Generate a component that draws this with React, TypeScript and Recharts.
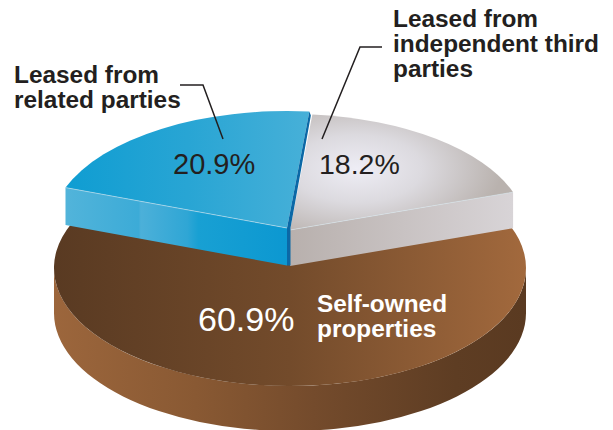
import { PieChart, Pie } from "recharts";

const SHARE_NAMES = ["Self-owned properties", "Leased from independent third parties", "Leased from related parties"];
const SHARE_VALUES = [60.9, 18.2, 20.9];

const rows = SHARE_NAMES.map((name, i) => ({ name, value: SHARE_VALUES[i] }));

const RAD = Math.PI / 180;
const INK = "#231f20";
const SANS = "'Liberation Sans', Arial, sans-serif";

// how each wedge sits on the disc: shift of its centre, squash, height of its side
const WEDGES = [
  { dx: 0, dy: 0, ry: 118, depth: 45, tipDy: -3, tuck: 2, face: "url(#brownFace)", side: "url(#brownSide)", sideFrom: "arc" },
  { dx: 0, dy: -38, ry: 116, depth: 36, tipDy: 0, tuck: 0, face: "url(#greyFace)", side: "url(#greySide)", sideFrom: "start" },
  { dx: -3, dy: -40, ry: 117, depth: 37.5, tipDy: 0, tuck: 0, face: "url(#blueFace)", side: "url(#blueSide)", sideFrom: "end" },
];

const PERCENT_LABELS = [
  { x: 198, y: 331, size: 34, color: "#ffffff" },
  { x: 319, y: 174, size: 28.5, color: INK },
  { x: 173, y: 174, size: 29, color: INK },
];

const NAME_LABELS = [
  { x: 317, y: 312, step: 25, color: "#ffffff", lines: ["Self-owned", "properties"] },
  { x: 393, y: 27, step: 25, color: INK, lines: ["Leased from", "independent third", "parties"] },
  { x: 14, y: 83, step: 25, color: INK, lines: ["Leased from", "related parties"] },
];

const LEADERS = ["", "382,47 360,47 322,139", "180,85 203,85 223,139"];

function WedgeShape(props: any) {
  const { cx, cy, outerRadius: rx, startAngle, endAngle, index } = props;
  const w = WEDGES[index];
  const ox = cx + w.dx;
  const oy = cy + w.dy;
  const at = (deg: number) =>
    [ox + rx * Math.cos(deg * RAD), oy - w.ry * Math.sin(deg * RAD)] as const;

  const [sx, sy] = at(startAngle);
  const [ex, ey] = at(endAngle);
  // the brown top runs a little further so it slips under the raised wedges
  const [fx, fy] = at(startAngle - w.tuck);
  const [gx, gy] = at(endAngle + w.tuck);
  const large = endAngle - startAngle > 180 ? 1 : 0;
  const tipY = oy + w.tipDy;
  const facePath = `M${ox},${tipY}L${fx},${fy}A${rx},${w.ry} 0 ${large} 0 ${gx},${gy}Z`;

  let sidePath: string;
  if (w.sideFrom === "arc") {
    const l = ox - rx;
    const r = ox + rx;
    sidePath = `M${l},${oy}A${rx},${w.ry} 0 0 0 ${r},${oy}V${oy + w.depth}A${rx},${w.ry} 0 0 1 ${l},${oy + w.depth}Z`;
  } else {
    const [px, py] = w.sideFrom === "start" ? [sx, sy] : [ex, ey];
    sidePath = `M${ox},${tipY}L${px},${py}V${py + w.depth}L${ox},${tipY + w.depth}Z`;
  }

  return (
    <g>
      <path d={sidePath} fill={w.side} />
      <path d={facePath} fill={w.face} />
      {w.sideFrom !== "arc" && (
        <line
          x1={ox}
          y1={tipY}
          x2={w.sideFrom === "start" ? sx : ex}
          y2={w.sideFrom === "start" ? sy : ey}
          stroke="#d6e6ee"
          strokeWidth={0.7}
          strokeOpacity={0.8}
        />
      )}
      {index === 2 && (
        // the darker inner wall of the blue wedge, seen through the gap
        <path
          d={`M${ox},${tipY}L${sx},${sy}L${sx + 1.5},${sy + 4}L${ox + 3.5},${tipY}V${tipY + w.depth}H${ox}Z`}
          fill="#0b68a6"
        />
      )}
    </g>
  );
}

function WedgeLabel(props: any) {
  const { index, value } = props;
  const pct = PERCENT_LABELS[index];
  const names = NAME_LABELS[index];
  return (
    <g fontFamily={SANS}>
      {LEADERS[index] && <polyline points={LEADERS[index]} fill="none" stroke={INK} strokeWidth={1.5} />}
      <text x={pct.x} y={pct.y} fontSize={pct.size} fill={pct.color}>
        {value.toFixed(1)}%
      </text>
      <text fontSize={24.4} fontWeight={700} fill={names.color}>
        {names.lines.map((line, i) => (
          <tspan key={line} x={names.x} y={names.y + i * names.step}>
            {line}
          </tspan>
        ))}
      </text>
    </g>
  );
}

export default function App() {
  return (
    <div style={{ position: "absolute", left: 0, top: 0 }}>
      <PieChart width={613} height={430} margin={{ top: 0, right: 0, bottom: 0, left: 0 }}>
        <defs>
          <linearGradient id="brownFace" x1="0" y1="0" x2="1" y2="0">
            <stop offset="0%" stopColor="#593a22" />
            <stop offset="50%" stopColor="#734b2b" />
            <stop offset="100%" stopColor="#a2693d" />
          </linearGradient>
          <linearGradient id="brownSide" x1="0" y1="0" x2="1" y2="0">
            <stop offset="0%" stopColor="#9c663c" />
            <stop offset="30%" stopColor="#895933" />
            <stop offset="55%" stopColor="#744b2c" />
            <stop offset="85%" stopColor="#5e3d23" />
            <stop offset="100%" stopColor="#5a3a21" />
          </linearGradient>
          <linearGradient id="blueFace" x1="0" y1="0" x2="1" y2="0">
            <stop offset="0%" stopColor="#0f9dd2" />
            <stop offset="50%" stopColor="#28a5d4" />
            <stop offset="100%" stopColor="#47b0d8" />
          </linearGradient>
          <linearGradient id="blueSide" x1="0" y1="0" x2="1" y2="0">
            <stop offset="0%" stopColor="#52b4da" />
            <stop offset="33%" stopColor="#3cabd7" />
            <stop offset="34%" stopColor="#4cb0d9" />
            <stop offset="55%" stopColor="#2fa6d5" />
            <stop offset="60%" stopColor="#18a0d3" />
            <stop offset="100%" stopColor="#0c98d1" />
          </linearGradient>
          <radialGradient id="greyFace" cx="0.3" cy="0.47" r="0.65">
            <stop offset="0%" stopColor="#eeedf5" />
            <stop offset="45%" stopColor="#dcdadf" />
            <stop offset="100%" stopColor="#b9b2ae" />
          </radialGradient>
          <linearGradient id="greySide" x1="0" y1="0" x2="1" y2="0">
            <stop offset="0%" stopColor="#b8b0ad" />
            <stop offset="100%" stopColor="#d8d4d7" />
          </linearGradient>
        </defs>
        <Pie
          data={rows}
          dataKey="value"
          nameKey="name"
          cx={290}
          cy={268}
          outerRadius={236}
          startAngle={159.8}
          endAngle={519.8}
          stroke="none"
          shape={WedgeShape}
          label={WedgeLabel}
          labelLine={false}
          isAnimationActive={false}
        />
      </PieChart>
    </div>
  );
}
